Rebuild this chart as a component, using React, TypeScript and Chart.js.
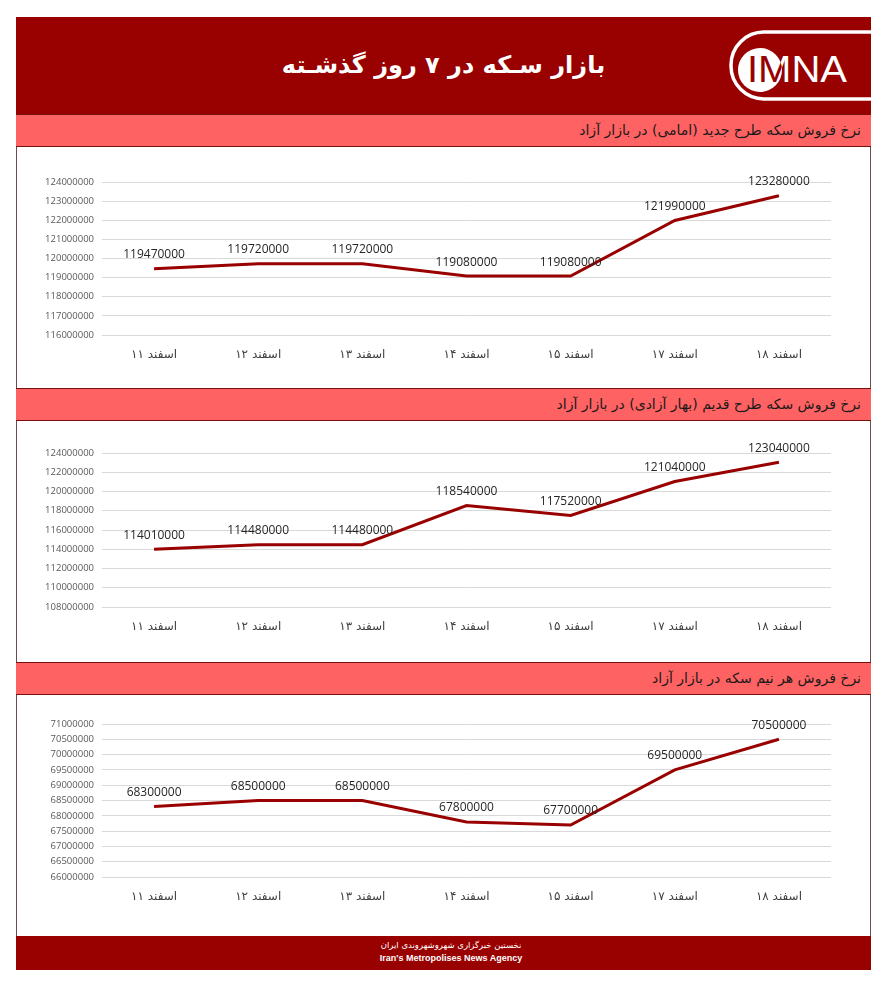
import React, { useEffect, useRef } from "react";
import { Chart, registerables } from "chart.js";

Chart.register(...registerables);

// ---- data ----
const categories = ["۱۱ اسفند", "۱۲ اسفند", "۱۳ اسفند", "۱۴ اسفند", "۱۵ اسفند", "۱۷ اسفند", "۱۸ اسفند"];
const emamiValues = [119470000, 119720000, 119720000, 119080000, 119080000, 121990000, 123280000];
const baharValues = [114010000, 114480000, 114480000, 118540000, 117520000, 121040000, 123040000];
const halfValues = [68300000, 68500000, 68500000, 67800000, 67700000, 69500000, 70500000];
const emamiTicks = [116000000, 124000000, 1000000];
const baharTicks = [108000000, 124000000, 2000000];
const halfTicks = [66000000, 71000000, 500000];

const mainTitle = "بازار سـکه در ۷ روز گذشـته";
const emamiTitle = "نرخ فروش سکه طرح جدید (امامی) در بازار آزاد";
const baharTitle = "نرخ فروش سکه طرح قدیم (بهار آزادی) در بازار آزاد";
const halfTitle = "نرخ فروش هر نیم سکه در بازار آزاد";
const footerFa = "نخستین خبرگزاری شهروشهروندی ایران";
const footerEn = "Iran's Metropolises News Agency";

const DARK = "#990000";
const PINK = "#ff6262";
const EDGE = "#7a1010";

// value labels above points + category labels (day number on the left, month on the right)
const labelsPlugin = {
  id: "labelsPlugin",
  afterDatasetsDraw(chart: any) {
    const ctx = chart.ctx;
    const meta = chart.getDatasetMeta(0);
    const data = chart.data.datasets[0].data;
    ctx.save();
    ctx.font = '12px "Open Sans", "DejaVu Sans", sans-serif';
    ctx.fillStyle = "#262626";
    ctx.textAlign = "center";
    ctx.textBaseline = "middle";
    meta.data.forEach((pt: any, i: number) => {
      ctx.fillText(String(data[i]), pt.x, pt.y - 14);
    });

    const xScale = chart.scales.x;
    const y = chart.chartArea.bottom + 20;
    ctx.font = '12px "DejaVu Sans", sans-serif';
    ctx.fillStyle = "#404040";
    ctx.textAlign = "left";
    const gap = ctx.measureText(" ").width;
    chart.data.labels.forEach((lab: string, i: number) => {
      const sp = lab.indexOf(" ");
      const day = lab.slice(0, sp);
      const month = lab.slice(sp + 1);
      const wD = ctx.measureText(day).width;
      const wM = ctx.measureText(month).width;
      const x0 = xScale.getPixelForValue(i) - (wD + gap + wM) / 2;
      ctx.fillText(day, x0, y);
      ctx.fillText(month, x0 + wD + gap, y);
    });
    ctx.restore();
  },
};

type LCProps = {
  values: number[];
  ticks: number[];
  top: number;
  height: number;
  padTop: number;
  plotH: number;
};

function LineChart({ values, ticks, top, height, padTop, plotH }: LCProps) {
  const ref = useRef<HTMLCanvasElement>(null);
  useEffect(() => {
    const xH = 40;
    const chart = new Chart(ref.current!, {
      type: "line",
      data: {
        labels: categories,
        datasets: [
          {
            data: values,
            borderColor: DARK,
            borderWidth: 3,
            pointRadius: 0,
            tension: 0,
            fill: false,
          },
        ],
      },
      options: {
        animation: false,
        responsive: true,
        maintainAspectRatio: false,
        layout: { padding: { left: 0, right: 40, top: padTop, bottom: height - padTop - plotH - xH } },
        plugins: { legend: { display: false }, tooltip: { enabled: false } },
        scales: {
          x: {
            offset: true,
            grid: { display: false, drawTicks: false },
            border: { display: false },
            ticks: { display: false },
            afterFit: (s: any) => {
              s.height = xH;
            },
          },
          y: {
            min: ticks[0],
            max: ticks[1],
            grid: { color: "#d9d9d9", lineWidth: 1, drawTicks: false },
            border: { display: false },
            ticks: {
              stepSize: ticks[2],
              padding: 8,
              color: "#595959",
              font: { size: 9.5, family: '"Open Sans", sans-serif' },
              callback: (v: any) => String(v),
            },
            afterFit: (s: any) => {
              s.width = 85;
            },
          },
        },
      },
      plugins: [labelsPlugin],
    });
    return () => chart.destroy();
  }, []);
  return (
    <div style={{ position: "absolute", left: 17, top, width: 854, height }}>
      <canvas ref={ref} />
    </div>
  );
}

function SectionBar({ top, text }: { top: number; text: string }) {
  return (
    <div
      style={{
        position: "absolute",
        left: 16,
        top,
        width: 855,
        height: 33,
        background: PINK,
        borderTop: `1px solid ${EDGE}`,
        borderBottom: `1px solid ${EDGE}`,
        boxSizing: "border-box",
      }}
    >
      <div
        dir="rtl"
        style={{
          position: "absolute",
          right: 10,
          top: 0,
          height: 31,
          lineHeight: "31px",
          fontSize: 14,
          color: "#1a1a1a",
          fontFamily: '"DejaVu Sans", sans-serif',
          whiteSpace: "nowrap",
        }}
      >
        {text}
      </div>
    </div>
  );
}

function Logo() {
  return (
    <svg
      width={171}
      height={96}
      style={{ position: "absolute", left: 700, top: 17 }}
      viewBox="0 0 171 96"
    >
      <defs>
        <clipPath id="circ">
          <circle cx={60} cy={53} r={22} />
        </clipPath>
      </defs>
      <rect x={31} y={15} width={200} height={67} rx={33} fill="none" stroke="#fff" strokeWidth={3.5} />
      <circle cx={60} cy={53} r={22} fill="#fff" />
      <text
        x={47}
        y={65}
        fill="#fff"
        fontFamily='"Liberation Sans", sans-serif'
        fontSize={36}
        textLength={100}
        lengthAdjust="spacingAndGlyphs"
      >
        IMNA
      </text>
      <text
        x={47}
        y={65}
        fill={DARK}
        clipPath="url(#circ)"
        fontFamily='"Liberation Sans", sans-serif'
        fontSize={36}
        textLength={100}
        lengthAdjust="spacingAndGlyphs"
      >
        IMNA
      </text>
    </svg>
  );
}

export default function App() {
  return (
    <div style={{ position: "absolute", left: 0, top: 0, width: 888, height: 1000, background: "#fff" }}>
      {/* outer frame */}
      <div
        style={{
          position: "absolute",
          left: 16,
          top: 17,
          width: 855,
          height: 953,
          borderLeft: "1px solid #6e4a4a",
          borderRight: "1px solid #6e4a4a",
          boxSizing: "border-box",
        }}
      />
      {/* header */}
      <div style={{ position: "absolute", left: 16, top: 17, width: 855, height: 97, background: DARK }}>
        <div
          dir="rtl"
          style={{
            position: "absolute",
            left: 0,
            width: 855,
            top: 26,
            textAlign: "center",
            color: "#fff",
            fontSize: 24,
            fontWeight: "bold",
            fontFamily: '"DejaVu Sans", sans-serif',
            whiteSpace: "nowrap",
            lineHeight: "44px",
          }}
        >
          {mainTitle}
        </div>
      </div>
      <Logo />

      <SectionBar top={114} text={emamiTitle} />
      <LineChart values={emamiValues} ticks={emamiTicks} top={147} height={241} padTop={35} plotH={153} />

      <SectionBar top={388} text={baharTitle} />
      <LineChart values={baharValues} ticks={baharTicks} top={421} height={241} padTop={32} plotH={154} />

      <SectionBar top={662} text={halfTitle} />
      <LineChart values={halfValues} ticks={halfTicks} top={695} height={241} padTop={29} plotH={153} />

      {/* footer */}
      <div style={{ position: "absolute", left: 16, top: 936, width: 855, height: 34, background: DARK }}>
        <div
          dir="rtl"
          style={{
            position: "absolute",
            left: 0,
            width: 870,
            top: 3,
            textAlign: "center",
            color: "#fff",
            fontSize: 8.5,
            fontFamily: '"DejaVu Sans", sans-serif',
            lineHeight: "12px",
            whiteSpace: "nowrap",
          }}
        >
          {footerFa}
        </div>
        <div
          style={{
            position: "absolute",
            left: 0,
            width: 870,
            top: 16,
            textAlign: "center",
            color: "#fff",
            fontSize: 9,
            fontWeight: "bold",
            fontFamily: '"Liberation Sans Narrow", "Liberation Sans", sans-serif',
            lineHeight: "13px",
            whiteSpace: "nowrap",
          }}
        >
          {footerEn}
        </div>
      </div>
    </div>
  );
}
